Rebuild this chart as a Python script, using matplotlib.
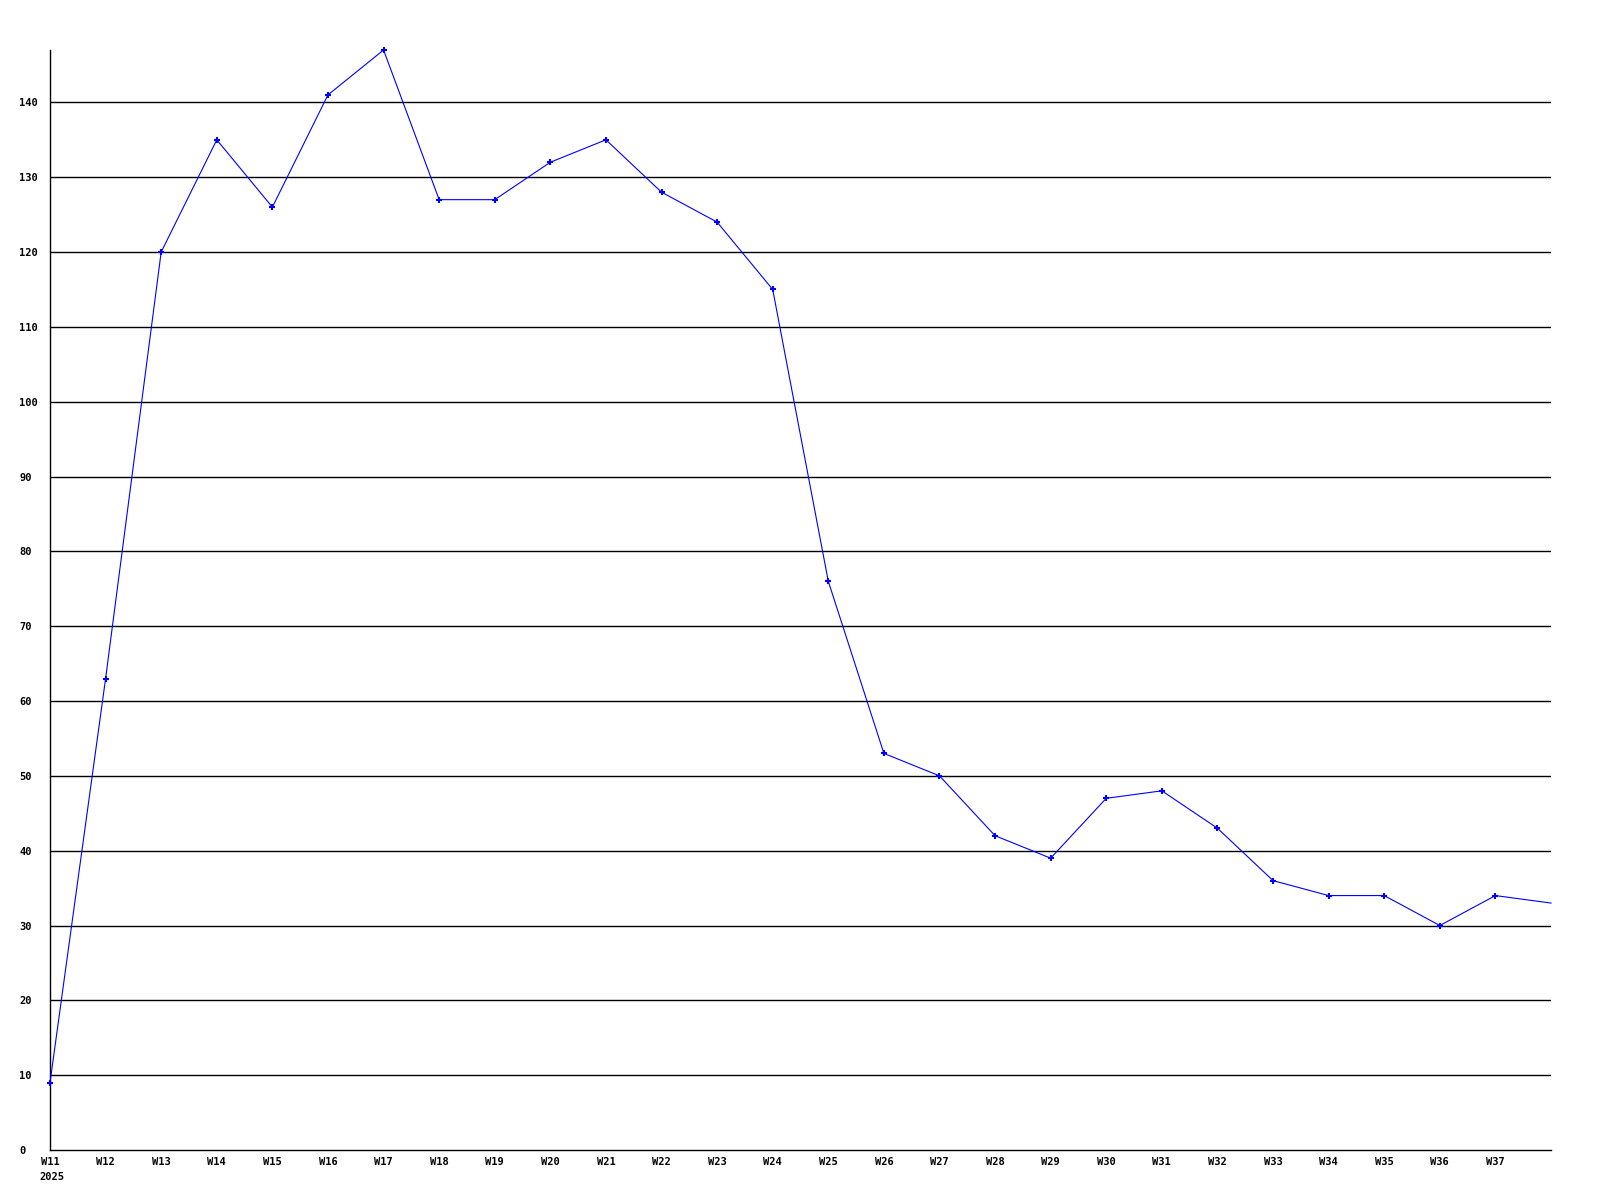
import numpy as np
import matplotlib.pyplot as plt

# weekly counts, W11..W38 (last point has no label)
weeks = ['W%d' % w for w in range(11, 39)]
values = [9, 63, 120, 135, 126, 141, 147, 127, 127, 132, 135, 128, 124, 115,
          76, 53, 50, 42, 39, 47, 48, 43, 36, 34, 34, 30, 34, 33]
labeled_weeks = weeks[:-1]
year_label = '2025'
yticks = list(range(0, 150, 10))

plt.rcParams['font.family'] = ['DejaVu Sans Mono']

fig = plt.figure(figsize=(16, 12), dpi=100)
ax = fig.add_axes([50 / 1600, 50 / 1200, 1501 / 1600, 1100 / 1200])

x = np.arange(len(values))
for yv in yticks[1:]:
    ax.axhline(yv, color='black', linewidth=1.0, zorder=1)

# the point at the right edge has no marker in the original
ax.plot(x, values, color='blue', linewidth=0.8, marker='+', markersize=4,
        markeredgewidth=1.5, markevery=list(range(len(values) - 1)),
        zorder=3, clip_on=False)

ax.set_xlim(0, len(values) - 1)
ax.set_ylim(0, max(values))

ax.set_xticks(x[:len(labeled_weeks)])
ax.set_xticklabels(labeled_weeks, fontsize=7.5, fontweight='bold')
ax.set_yticks(yticks)
ax.set_yticklabels([str(v) for v in yticks], fontsize=7.5, fontweight='bold')
for lab in ax.get_yticklabels():
    lab.set_horizontalalignment('left')
ax.tick_params(axis='y', length=0, pad=22)
ax.tick_params(axis='x', length=0, pad=5)

ax.annotate(year_label, xy=(0, 0), xycoords='data', xytext=(-7.5, -16),
            textcoords='offset points', ha='left', va='top',
            fontsize=7.5, fontweight='bold')

for side in ['top', 'right']:
    ax.spines[side].set_visible(False)
for side in ['left', 'bottom']:
    ax.spines[side].set_linewidth(1.0)
    ax.spines[side].set_color('black')

fig.savefig('out.png', dpi=100, facecolor='white')
